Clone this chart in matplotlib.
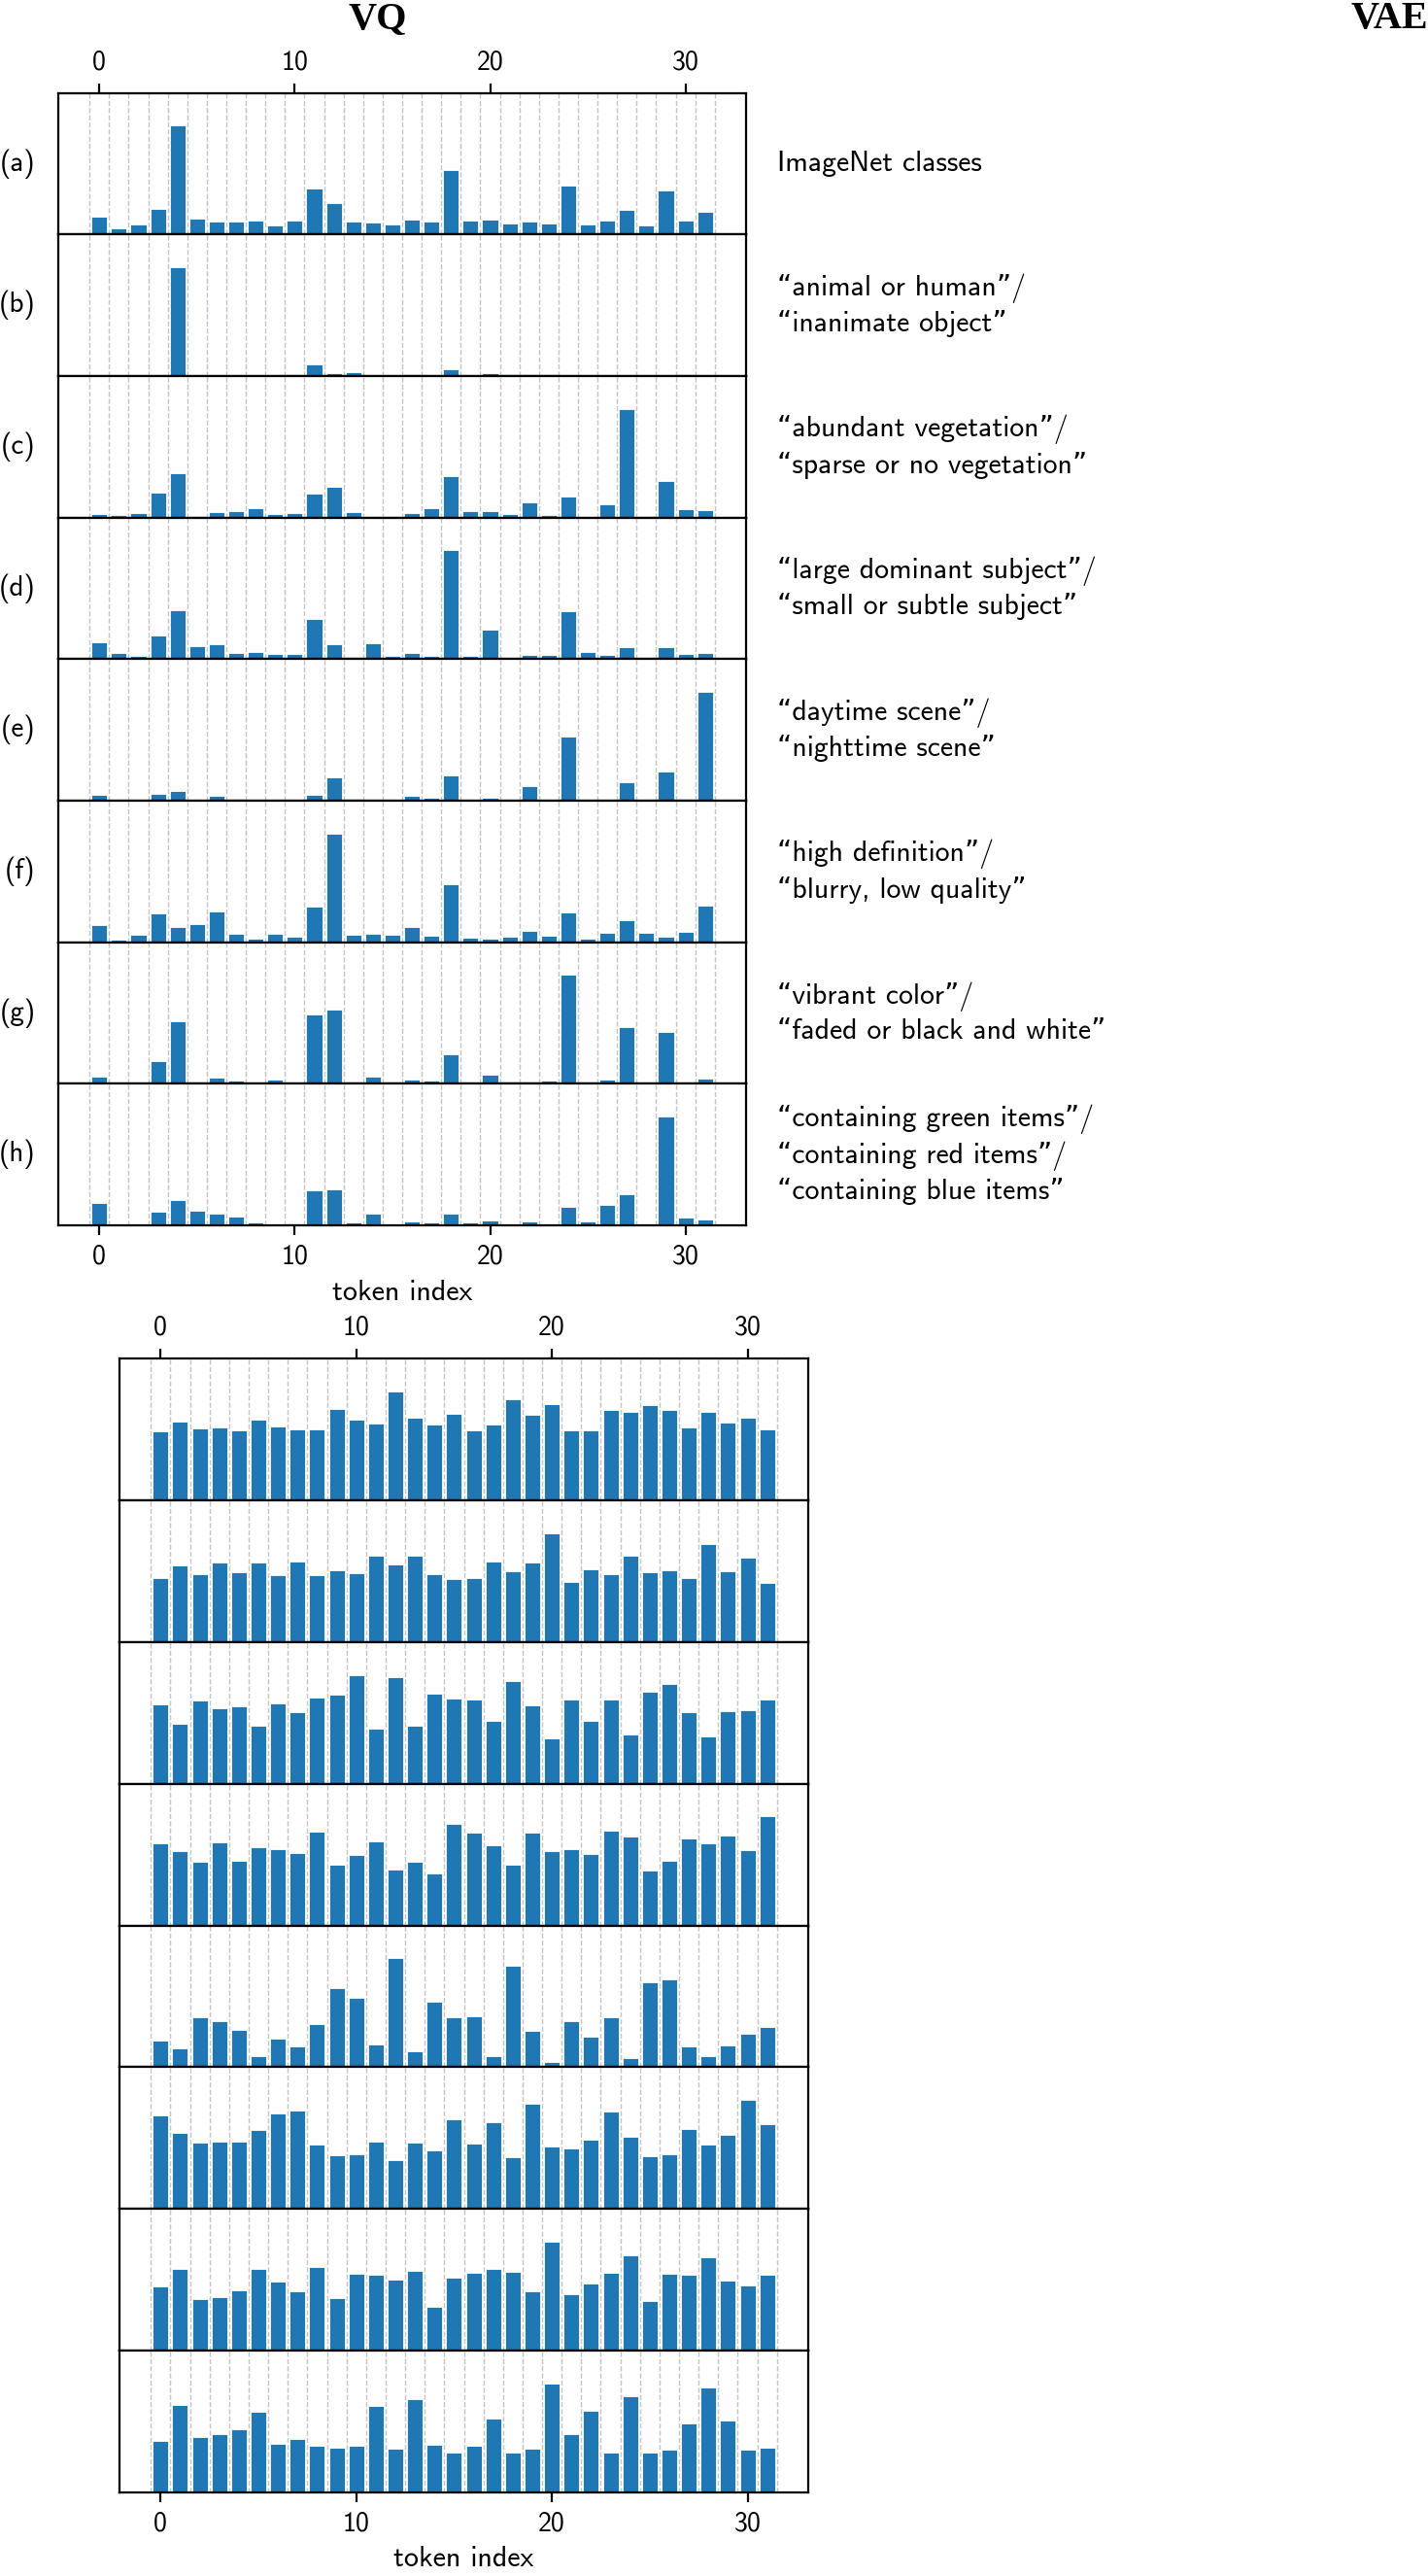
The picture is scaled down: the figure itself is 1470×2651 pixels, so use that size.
import numpy as np
import matplotlib.pyplot as plt

plt.rcParams['font.family'] = ['cmss10', 'DejaVu Sans']
plt.rcParams['axes.linewidth'] = 0.8

tokens = np.arange(32)
tick_vals = [0, 10, 20, 30]

row_labels = ['(a)', '(b)', '(c)', '(d)', '(e)', '(f)', '(g)', '(h)']
row_texts = [
    'ImageNet classes',
    '“animal or human”/\n“inanimate object”',
    '“abundant vegetation”/\n“sparse or no vegetation”',
    '“large dominant subject”/\n“small or subtle subject”',
    '“daytime scene”/\n“nighttime scene”',
    '“high definition”/\n“blurry, low quality”',
    '“vibrant color”/\n“faded or black and white”',
    '“containing green items”/\n“containing red items”/\n“containing blue items”',
]

# VQ token importance per probe (arbitrary units)
vq_a = [18.0, 6.0, 10.7, 26.0, 111.0, 16.7, 13.0, 13.3, 14.3, 9.7, 14.7, 47.3, 32.0, 13.0, 12.0, 10.7,
        15.7, 13.0, 66.0, 14.7, 15.0, 11.7, 13.0, 11.0, 50.0, 10.3, 14.0, 25.0, 9.0, 45.3, 14.0, 22.7]
vq_b = [0.7, 0, 0, 0.7, 111.3, 0, 0, 0, 0, 0.7, 1.7, 12.3, 2.7, 3.7, 0, 0,
        1.7, 0, 7.3, 0, 2.7, 1.7, 1.7, 1.7, 0.7, 0, 0.7, 0.7, 0, 0, 1.7, 1.0]
vq_c = [4, 2.7, 4.3, 26, 45.7, 1.7, 5.7, 6.7, 9.7, 3.7, 4.3, 24.7, 31.7, 5.7, 1.7, 1.7,
        5, 9.3, 42.7, 6.7, 6.7, 4, 15.4, 2.7, 21.4, 0, 13.7, 111.4, 1.3, 37.7, 8.3, 7.7]
vq_d = [17.7, 6, 3, 23.7, 50.3, 13.3, 15.7, 6, 7.7, 5.7, 5, 40.7, 15.3, 2, 16.3, 3.7,
        6.7, 3.7, 111.3, 3.7, 29.7, 1.7, 4, 4, 49.3, 7, 4.3, 12.7, 1.7, 12, 5, 6.3]
vq_e = [6.3, 0, 0, 6.7, 9.7, 1.3, 4.7, 1.7, 0, 1.3, 0, 6, 23.7, 1.7, 0.7, 0,
        4.7, 2.7, 26, 1.3, 2.7, 0, 14.7, 1, 66, 0, 0, 19.3, 0, 30.3, 2.3, 111.7]
vq_f = [17.3, 2.7, 7.3, 30, 16, 18.3, 31.7, 8.3, 3.7, 8.3, 5.3, 36.3, 111.7, 7.3, 9, 8,
        15.3, 7, 59.3, 4.3, 3.3, 5.7, 11.3, 7, 30.3, 4, 9.3, 22.7, 9.3, 6, 10.3, 37.3]
vq_g = [7, 0, 0, 23, 64, 2, 6.3, 3.7, 0, 4, 0, 70.7, 76, 2, 7, 2.3,
        4, 3.3, 30.7, 0, 9.3, 2.3, 2.3, 3, 111.7, 2, 4, 58, 0, 53, 0, 5.7]
vq_h = [22.7, 0, 0.7, 13.7, 26, 15, 11.7, 9, 2.7, 0, 2, 35.7, 37.3, 2.7, 11.7, 1.3,
        3.7, 3, 12, 3, 5, 0, 4.3, 0, 19, 4, 21, 31.7, 0, 112, 8, 6]

# VAE token importance per probe
vae_a = [213, 243, 222, 224, 216, 248, 228, 219, 219, 282, 248, 236, 336, 255, 235, 267,
         216, 234, 313, 263, 296, 216, 215, 280, 272, 294, 279, 225, 272, 239, 255, 218]
vae_b = [195, 235, 207, 243, 213, 243, 205, 248, 205, 220, 211, 265, 237, 264, 208, 192,
         196, 246, 216, 245, 334, 185, 222, 208, 265, 214, 219, 196, 300, 216, 259, 180]
vae_c = [244, 185, 258, 232, 238, 180, 248, 221, 265, 276, 336, 171, 329, 178, 279, 262,
         261, 195, 317, 241, 140, 259, 193, 261, 151, 283, 307, 222, 146, 225, 228, 261]
vae_d = [254, 229, 195, 257, 200, 241, 235, 224, 290, 188, 216, 258, 172, 197, 160, 314,
         285, 248, 187, 285, 229, 234, 221, 292, 275, 168, 200, 267, 252, 276, 232, 336]
vae_e = [81, 57, 152, 141, 114, 34, 89, 64, 133, 243, 214, 69, 335, 49, 200, 152,
         157, 35, 311, 111, 16, 140, 93, 152, 29, 262, 271, 63, 33, 66, 102, 122]
vae_f = [287, 233, 204, 207, 206, 243, 294, 304, 198, 164, 168, 207, 150, 203, 179, 276,
         201, 266, 159, 323, 191, 186, 213, 300, 221, 161, 168, 245, 197, 229, 336, 260]
vae_g = [196, 250, 158, 163, 185, 252, 212, 181, 256, 160, 237, 234, 218, 244, 135, 225,
         240, 250, 242, 182, 335, 174, 205, 238, 292, 152, 235, 233, 285, 214, 199, 234]
vae_h = [158, 271, 172, 180, 194, 249, 149, 164, 144, 137, 143, 267, 135, 287, 147, 122,
         145, 229, 124, 134, 338, 179, 251, 123, 298, 124, 131, 212, 326, 221, 132, 138]

vq_rows = [vq_a, vq_b, vq_c, vq_d, vq_e, vq_f, vq_g, vq_h]
vae_rows = [vae_a, vae_b, vae_c, vae_d, vae_e, vae_f, vae_g, vae_h]

W, H, DPI = 1470, 2651, 200
fig = plt.figure(figsize=(W / DPI, H / DPI), dpi=DPI)


def draw_stack(rows, left, top, width, row_h, labels=None, texts=None):
    axes = []
    n = len(rows)
    for i, vals in enumerate(rows):
        ax = fig.add_axes([left / W, 1 - (top + (i + 1) * row_h) / H, width / W, row_h / H])
        ax.bar(tokens, vals, width=0.8, color='#1f77b4', edgecolor='white', linewidth=0.3, zorder=2)
        # dashed separators between tokens
        ax.set_xticks(np.arange(-0.5, 32, 1), minor=True)
        ax.grid(which='minor', axis='x', color='#c4c4c4', linestyle='--', linewidth=0.5)
        ax.set_axisbelow(True)
        ax.set_xlim(-2.1, 33.1)
        ax.set_ylim(0, 1.3 * max(vals))
        ax.set_yticks([])
        ax.tick_params(which='minor', length=0)
        if i == 0:
            ax.xaxis.tick_top()
            ax.set_xticks(tick_vals)
            ax.tick_params(which='major', labelsize=10)
        elif i == n - 1:
            ax.set_xticks(tick_vals)
            ax.tick_params(which='major', labelsize=10)
            ax.set_xlabel('token index', fontsize=10.8, labelpad=4)
        else:
            ax.set_xticks([])
        if labels is not None:
            ax.text(-0.033, 0.5, labels[i], transform=ax.transAxes, ha='right', va='center', fontsize=10.5)
        if texts is not None:
            ax.text(1.045, 0.5, texts[i], transform=ax.transAxes, ha='left', va='center',
                    fontsize=10.7, linespacing=1.33)
        axes.append(ax)
    return axes


draw_stack(vq_rows, 60, 95.7, 708, 145.66, labels=row_labels, texts=row_texts)
draw_stack(vae_rows, 123, 1398.3, 709, 145.8)

fig.text(389 / W, 1 - 29.3 / H, 'VQ', ha='center', va='baseline',
         family='Liberation Serif', weight='bold', fontsize=14.5)
fig.text(1.0, 1 - 29.3 / H, 'VAE', ha='right', va='baseline',
         family='Liberation Serif', weight='bold', fontsize=14.5)

fig.savefig('out.png', dpi=DPI)
